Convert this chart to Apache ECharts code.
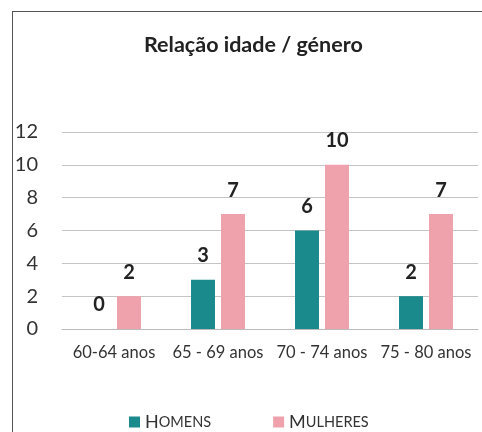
<!DOCTYPE html>
<html>
<head>
<meta charset="utf-8">
<script src="https://cdn.jsdelivr.net/npm/echarts@6/dist/echarts.min.js"></script>
<style>
  html, body {
    margin: 0;
    padding: 0;
    background: #fff;
  }
  .frame {
    position: absolute;
    left: 12px;
    top: 11px;
    width: 470px;
    height: 421px;
    border-left: 1.5px solid #555;
    border-top: 1.5px solid #555;
  }
  #chart {
    position: absolute;
    left: 0;
    top: 0;
    width: 482px;
    height: 432px;
  }
</style>
</head>
<body>
<div class="frame"></div>
<div id="chart"></div>
<script>
const categories = ["60-64 anos", "65 - 69 anos", "70 - 74 anos", "75 - 80 anos"];
const homens = [0, 3, 6, 2];
const mulheres = [2, 7, 10, 7];
const yTicks = [0, 2, 4, 6, 8, 10, 12];

const font = "Lato, 'Open Sans', sans-serif";

const chart = echarts.init(document.getElementById("chart"));
chart.setOption({
  animation: false,
  title: {
    text: "Relação idade / género",
    left: 139,
    top: 29,
    textStyle: {
      fontFamily: font,
      fontSize: 21.5,
      fontWeight: "bold",
      color: "#222",
    },
  },
  legend: {
    left: 124,
    top: 408,
    itemWidth: 11,
    itemHeight: 11,
    itemGap: 62,
    itemTextGap: 5,
    icon: "rect",
    data: ["Homens", "Mulheres"],
    formatter: function (name) {
      const up = name.toUpperCase();
      return "{a|" + up[0] + "}{b|" + up.slice(1) + "}";
    },
    textStyle: {
      fontFamily: font,
      color: "#333",
      rich: {
        a: { fontFamily: font, fontSize: 18, color: "#333" },
        b: { fontFamily: font, fontSize: 14.5, color: "#333" },
      },
    },
  },
  grid: {
    left: 62,
    right: 4,
    top: 132,
    bottom: 103,
  },
  xAxis: {
    type: "category",
    data: categories,
    axisTick: { show: false },
    axisLine: { lineStyle: { color: "#bbb" } },
    axisLabel: {
      interval: 0,
      margin: 15,
      fontFamily: font,
      fontSize: 16.5,
      color: "#333",
    },
  },
  yAxis: {
    type: "value",
    min: yTicks[0],
    max: yTicks[yTicks.length - 1],
    interval: 2,
    axisLabel: {
      margin: 24,
      fontFamily: font,
      fontSize: 20,
      color: "#333",
    },
    splitLine: { lineStyle: { color: "#c4c4c4" } },
  },
  series: [
    {
      name: "Homens",
      type: "bar",
      data: homens,
      barWidth: 24,
      barGap: "25%",
      itemStyle: { color: "#1a8a8c" },
      label: {
        show: true,
        position: "top",
        distance: 14,
        fontFamily: font,
        fontSize: 20,
        fontWeight: "bold",
        color: "#222",
      },
    },
    {
      name: "Mulheres",
      type: "bar",
      data: mulheres,
      barWidth: 24,
      itemStyle: { color: "#f0a2ac" },
      label: {
        show: true,
        position: "top",
        distance: 14,
        fontFamily: font,
        fontSize: 20,
        fontWeight: "bold",
        color: "#222",
      },
    },
  ],
});
</script>
</body>
</html>
